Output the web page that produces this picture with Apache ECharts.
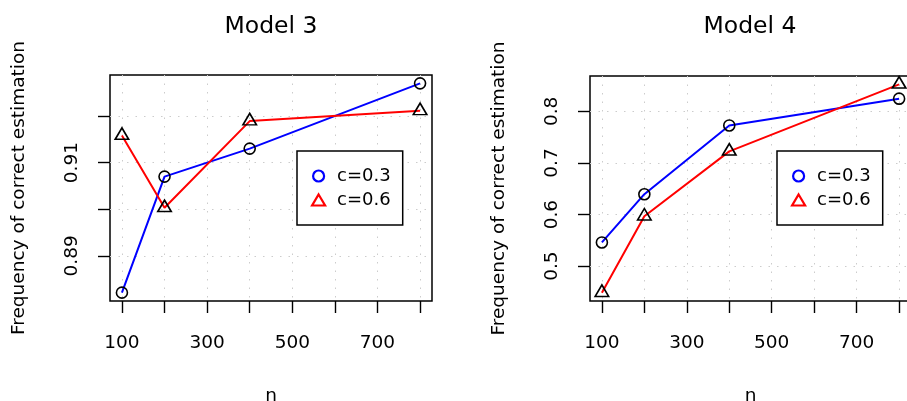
<!DOCTYPE html>
<html>
<head>
<meta charset="utf-8">
<script src="https://cdn.jsdelivr.net/npm/echarts@6/dist/echarts.min.js"></script>
<style>
html,body{margin:0;padding:0;background:#fff;}
#chart{width:907px;height:401px;}
</style>
</head>
<body>
<div id="chart"></div>
<script>
// ---- data ----
const nValues = [100, 200, 400, 800];
const model3C03 = [0.8821, 0.9070, 0.9130, 0.9270];
const model3C06 = [0.9158, 0.9003, 0.9189, 0.9211];
const model4C03 = [0.546, 0.6395, 0.7728, 0.8247];
const model4C06 = [0.4486, 0.5967, 0.7226, 0.8525];
const seriesNames = ['c=0.3', 'c=0.6'];
const panelTitles = ['Model 3', 'Model 4'];
const xTicks = [100, 200, 300, 400, 500, 600, 700, 800];
const xTickLabels = [100, 300, 500, 700];
const m3yTicks = [0.89, 0.90, 0.91, 0.92];
const m3yTickLabels = [0.89, 0.91];
const m4yTicks = [0.5, 0.6, 0.7, 0.8];
const m4yTickLabels = [0.5, 0.6, 0.7, 0.8];
const xName = 'n';
const yName = 'Frequency of correct estimation';

// ---- helpers ----
const FONT = 'DejaVu Sans';
const pairs = (xs, ys) => xs.map((x, i) => [x, ys[i]]);
const pad = (lo, hi) => { const d = (hi - lo) * 0.04; return [lo - d, hi + d]; };
const m3Range = pad(Math.min(...model3C03, ...model3C06), Math.max(...model3C03, ...model3C06));
const m4Range = pad(Math.min(...model4C03, ...model4C06), Math.max(...model4C03, ...model4C06));
const xRange = pad(Math.min(...nValues), Math.max(...nValues));

const gridLine = { show: true, lineStyle: { color: '#cccccc', width: 1, type: [1.5, 7] } };

function xAxis(gi) {
  return {
    type: 'value', gridIndex: gi, min: xRange[0], max: xRange[1],
    axisLine: { show: false },
    axisTick: { show: true, length: 12, customValues: xTicks, lineStyle: { color: '#000', width: 1.4 } },
    axisLabel: { customValues: xTickLabels, margin: 33, fontSize: 18.5, fontFamily: FONT, color: '#000' },
    splitLine: gridLine,
    name: xName, nameLocation: 'middle', nameGap: 86,
    nameTextStyle: { fontSize: 18.5, fontFamily: FONT, color: '#000' }
  };
}
function yAxis(gi, range, ticks, labels, digits) {
  return {
    type: 'value', gridIndex: gi, min: range[0], max: range[1],
    axisLine: { show: false },
    axisTick: { show: true, length: 12, customValues: ticks, lineStyle: { color: '#000', width: 1.4 } },
    axisLabel: { customValues: labels, rotate: 90, margin: 28, fontSize: 18.5, fontFamily: FONT, color: '#000',
      formatter: v => Number(v).toFixed(digits) },
    splitLine: gridLine,
    name: yName, nameLocation: 'middle', nameGap: 81,
    nameTextStyle: { fontSize: 18.5, fontFamily: FONT, color: '#000' }
  };
}
function lineSeries(name, gi, ys, color, symbol) {
  const isTri = symbol === 'triangle';
  return {
    name, type: 'line', xAxisIndex: gi, yAxisIndex: gi,
    data: pairs(nValues, ys),
    symbol, symbolSize: isTri ? [13.5, 11.5] : 11,
    symbolOffset: isTri ? [0, -2] : [0, 0],
    showAllSymbol: true,
    lineStyle: { color, width: 2 },
    itemStyle: { color: 'transparent', borderColor: '#000', borderWidth: 1.6 },
    emphasis: { disabled: true },
    z: 3
  };
}
function legend(left, top) {
  return {
    orient: 'vertical', left, top,
    padding: [15, 12, 15, 14], itemGap: 4,
    itemWidth: 13, itemHeight: 11,
    borderColor: '#000', borderWidth: 1.5, backgroundColor: '#fff',
    selectedMode: false,
    textStyle: { fontSize: 18, fontFamily: FONT, color: '#000', lineHeight: 20, padding: [0, 0, 0, 7] },
    data: [
      { name: seriesNames[0], icon: 'circle', itemStyle: { color: 'transparent', borderColor: '#0000ff', borderWidth: 2.2 } },
      { name: seriesNames[1], icon: 'triangle', itemStyle: { color: 'transparent', borderColor: '#ff0000', borderWidth: 2.2 } }
    ]
  };
}

const chart = echarts.init(document.getElementById('chart'), null, { renderer: 'canvas' });
chart.setOption({
  animation: false,
  backgroundColor: '#fff',
  grid: [
    { left: 110, right: 475, top: 75, bottom: 100, outerBoundsMode: 'none', containLabel: false, show: true, borderColor: '#000', borderWidth: 1.5, backgroundColor: 'transparent' },
    { left: 590, right: -4, top: 76, bottom: 100, outerBoundsMode: 'none', containLabel: false, show: true, borderColor: '#000', borderWidth: 1.5, backgroundColor: 'transparent' }
  ],
  xAxis: [xAxis(0), xAxis(1)],
  yAxis: [
    yAxis(0, m3Range, m3yTicks, m3yTickLabels, 2),
    yAxis(1, m4Range, m4yTicks, m4yTickLabels, 1)
  ],
  legend: [
    legend(297, 151),
    legend(777, 151)
  ],
  graphic: [
    { type: 'text', x: 271, y: 27, style: { text: panelTitles[0], fontSize: 23.5, fontFamily: FONT, fill: '#000', align: 'center', verticalAlign: 'middle' } },
    { type: 'text', x: 750, y: 27, style: { text: panelTitles[1], fontSize: 23.5, fontFamily: FONT, fill: '#000', align: 'center', verticalAlign: 'middle' } }
  ],
  series: [
    lineSeries(seriesNames[0], 0, model3C03, '#0000ff', 'circle'),
    lineSeries(seriesNames[1], 0, model3C06, '#ff0000', 'triangle'),
    lineSeries(seriesNames[0], 1, model4C03, '#0000ff', 'circle'),
    lineSeries(seriesNames[1], 1, model4C06, '#ff0000', 'triangle')
  ]
});
</script>
</body>
</html>
